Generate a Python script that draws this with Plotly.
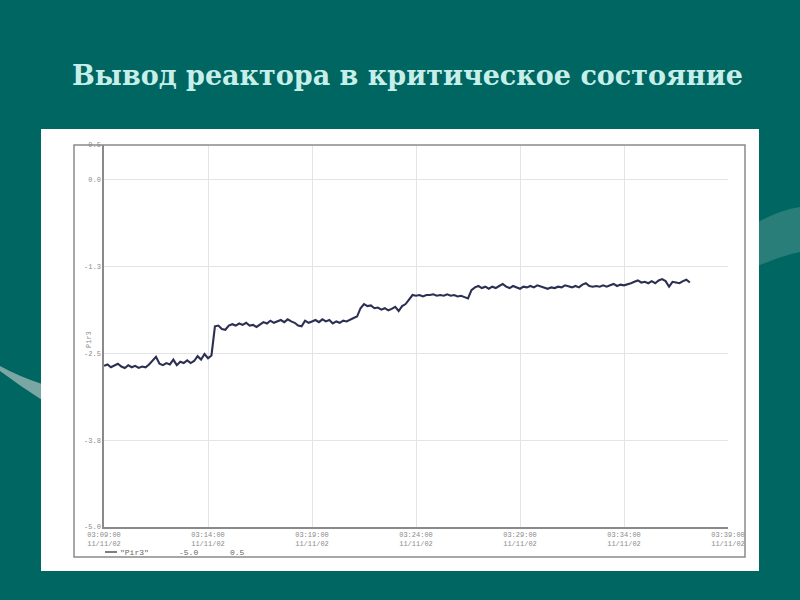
import plotly.graph_objects as go
import pandas as pd

# ---- data ----
start_time = "2002-11-11 03:09:00"
step = "10s"
pir3_values = [
    # 03:09:00 - 03:14:10
    -2.68, -2.66, -2.70, -2.67, -2.65, -2.69, -2.71, -2.67, -2.70, -2.68,
    -2.71, -2.69, -2.70, -2.66, -2.60, -2.55, -2.65, -2.67, -2.64, -2.66,
    -2.59, -2.67, -2.62, -2.64, -2.60, -2.64, -2.61, -2.54, -2.59, -2.51,
    -2.57, -2.53,
    # after first step
    -2.11, -2.10, -2.15, -2.16, -2.10, -2.08, -2.10, -2.07, -2.09, -2.06,
    -2.10, -2.09, -2.12, -2.09, -2.05, -2.07, -2.03, -2.06, -2.04, -2.02,
    -2.05, -2.01, -2.04, -2.06, -2.10, -2.11, -2.03, -2.06, -2.04, -2.02,
    -2.05, -2.01, -2.04, -2.02, -2.07, -2.04, -2.06, -2.03, -2.04, -2.01,
    -1.99, -1.97,
    # after second step
    -1.85, -1.79, -1.82, -1.81, -1.85, -1.84, -1.87, -1.85, -1.88,
    -1.86, -1.83, -1.89, -1.82, -1.79, -1.73,
    # after third step
    -1.66, -1.67, -1.66, -1.68, -1.66, -1.66, -1.65, -1.67, -1.66, -1.67,
    -1.65, -1.67, -1.66, -1.68, -1.67, -1.69, -1.71,
    # after fourth step
    -1.59, -1.55, -1.53, -1.56, -1.54, -1.57, -1.54, -1.56, -1.53, -1.50,
    -1.54, -1.56, -1.53, -1.55, -1.57, -1.54, -1.55, -1.53, -1.55, -1.52,
    -1.54, -1.56, -1.57, -1.55, -1.56, -1.54, -1.55, -1.52, -1.54, -1.55,
    -1.53, -1.55, -1.51, -1.49, -1.53, -1.54, -1.53, -1.54, -1.52, -1.54,
    -1.52, -1.50, -1.53, -1.51, -1.52, -1.51, -1.49, -1.47, -1.45, -1.48,
    -1.47, -1.49, -1.46, -1.49, -1.45, -1.43, -1.46, -1.54, -1.47, -1.48,
    -1.49, -1.46, -1.44, -1.48,
]
y_tick_vals = [-5.0, -3.75, -2.5, -1.25, 0.0, 0.5]
y_tick_text = ["-5.0", "-3.8", "-2.5", "-1.3", "0.0", "0.5"]
x_range = ["2002-11-11 03:09:00", "2002-11-11 03:39:00"]
series_name = '"Pir3"'
legend_min, legend_max = "-5.0", "0.5"
title_text = "Вывод реактора в критическое состояние"

times = pd.date_range(start_time, periods=len(pir3_values), freq=step)

W, H = 800, 600
BG = "#006661"
GRAY = "#8a8a8a"
LINE = "#2b3052"
MONO = "Liberation Mono"


def px(x):
    return x / W


def py(y):
    return 1 - y / H


fig = go.Figure()
fig.add_trace(go.Scatter(
    x=times, y=pir3_values, mode="lines",
    line=dict(color=LINE, width=2.1), showlegend=False,
))

shapes = []
# decorative swooshes on the slide background
shapes.append(dict(
    type="path", xref="paper", yref="paper", layer="below",
    path=(f"M {px(758)} {py(222)} Q {px(780)} {py(210)} {px(800)} {py(207)} "
          f"L {px(800)} {py(252)} Q {px(780)} {py(256)} {px(758)} {py(266)} Z"),
    fillcolor="rgba(255,255,255,0.16)", line=dict(width=0),
))
shapes.append(dict(
    type="path", xref="paper", yref="paper", layer="below",
    path=(f"M {px(0)} {py(366)} Q {px(18)} {py(376)} {px(42)} {py(384)} "
          f"L {px(42)} {py(400)} Q {px(20)} {py(386)} {px(0)} {py(371)} Z"),
    fillcolor="#7aa6a3", line=dict(width=0),
))
# white picture panel
shapes.append(dict(
    type="rect", xref="paper", yref="paper", layer="below",
    x0=px(41), x1=px(759), y0=py(571), y1=py(129),
    fillcolor="white", line=dict(width=0),
))
# outer frame of the printed chart
shapes.append(dict(
    type="rect", xref="paper", yref="paper", layer="above",
    x0=px(74), x1=px(745), y0=py(557), y1=py(145),
    fillcolor="rgba(0,0,0,0)", line=dict(color=GRAY, width=1.5),
))
# legend line
shapes.append(dict(
    type="line", xref="paper", yref="paper",
    x0=px(105), x1=px(117), y0=py(552), y1=py(552),
    line=dict(color="#555", width=1.5),
))
fig.update_layout(shapes=shapes)

annotations = [
    dict(text=f"<b>{title_text}</b>", x=px(407), y=py(75), xref="paper", yref="paper",
         showarrow=False, xanchor="center", yanchor="middle",
         font=dict(family="DejaVu Serif", size=27, color="#c6efea")),
    dict(text="Pir3", x=px(83), y=py(340), xref="paper", yref="paper", textangle=-90,
         showarrow=False, font=dict(family=MONO, size=7, color=GRAY)),
    dict(text=series_name, x=px(118), y=py(552), xref="paper", yref="paper",
         showarrow=False, xanchor="left", yanchor="middle",
         font=dict(family=MONO, size=8, color="#666")),
    dict(text=legend_min, x=px(177), y=py(552), xref="paper", yref="paper",
         showarrow=False, xanchor="left", yanchor="middle",
         font=dict(family=MONO, size=8, color="#666")),
    dict(text=legend_max, x=px(228), y=py(552), xref="paper", yref="paper",
         showarrow=False, xanchor="left", yanchor="middle",
         font=dict(family=MONO, size=8, color="#666")),
]
fig.update_layout(annotations=annotations)

fig.update_layout(
    width=W, height=H,
    margin=dict(l=0, r=0, t=0, b=0, pad=0, autoexpand=False),
    paper_bgcolor=BG,
    plot_bgcolor="white",
    xaxis=dict(
        domain=[px(104), px(728)], automargin=False,
        range=x_range, type="date",
        dtick=300000, tick0=x_range[0],
        tickformat="%H:%M:%S<br>%d/%m/%y",
        showgrid=True, gridcolor="#e4e4e4", gridwidth=1,
        showline=True, linecolor=GRAY, linewidth=1.5,
        ticks="", zeroline=False,
        tickfont=dict(family=MONO, size=7, color=GRAY),
    ),
    yaxis=dict(
        domain=[py(527), py(145)], automargin=False,
        range=[-5.0, 0.5],
        tickmode="array", tickvals=y_tick_vals, ticktext=y_tick_text,
        showgrid=True, gridcolor="#e4e4e4", gridwidth=1,
        showline=True, linecolor=GRAY, linewidth=1.5,
        ticks="", zeroline=False,
        tickfont=dict(family=MONO, size=7, color=GRAY),
    ),
)

fig.write_html(
    "out.html",
    config={"displayModeBar": False},
    post_script="document.body.style.margin='0';document.body.style.overflow='hidden';",
)
